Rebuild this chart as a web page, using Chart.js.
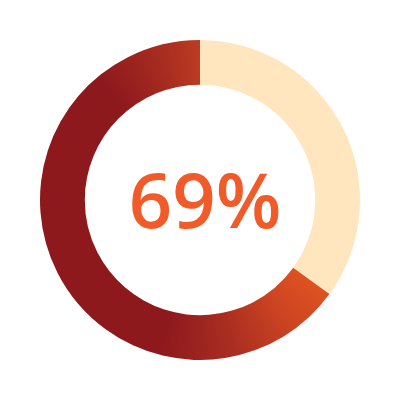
<!DOCTYPE html>
<html>
<head>
<meta charset="utf-8">
<script src="https://cdn.jsdelivr.net/npm/chart.js@4"></script>
<style>
  html, body { margin: 0; padding: 0; background: #fff; }
  #wrap { width: 400px; height: 400px; }
</style>
</head>
<body>
<div id="wrap"><canvas id="chart"></canvas></div>
<script>
// Data (arc starts at 12 o'clock, runs clockwise)
const labels = ['Remaining', 'Complete'];
const values = [35, 65];
const centerText = ['69%'];

// Colours
const PEACH = '#FFE6BE';
const TEXT_COLOR = '#F15A29';

// conic gradient for the filled part, dark red in the middle, orange at the end
function ringGradient(chart) {
  const area = chart.chartArea;
  if (!area) return '#8E191D';
  const cx = (area.left + area.right) / 2;
  const cy = (area.top + area.bottom) / 2;
  const g = chart.ctx.createConicGradient(-Math.PI / 2, cx, cy);
  g.addColorStop(0.00, '#BC3C22');
  g.addColorStop(0.35, '#DE5221');
  g.addColorStop(0.40, '#CC4422');
  g.addColorStop(0.465, '#AA2E20');
  g.addColorStop(0.54, '#8E191D');
  g.addColorStop(0.89, '#8E191D');
  g.addColorStop(0.955, '#A62B20');
  g.addColorStop(1.00, '#BC3C22');
  return g;
}

// Plugin to write the percentage in the middle
const centerLabel = {
  id: 'centerLabel',
  afterDraw(chart) {
    const { ctx, chartArea } = chart;
    const cx = (chartArea.left + chartArea.right) / 2;
    const cy = (chartArea.top + chartArea.bottom) / 2;
    ctx.save();
    ctx.fillStyle = TEXT_COLOR;
    ctx.font = '600 76px "Open Sans"';
    ctx.textAlign = 'center';
    ctx.textBaseline = 'middle';
    ctx.fillText(centerText[0], cx + 5, cy + 6);
    ctx.restore();
  }
};

new Chart(document.getElementById('chart').getContext('2d'), {
  type: 'doughnut',
  data: {
    labels: labels,
    datasets: [{
      data: values,
      backgroundColor: (context) => context.dataIndex === 0 ? PEACH : ringGradient(context.chart),
      borderWidth: 0
    }]
  },
  options: {
    responsive: true,
    maintainAspectRatio: false,
    animation: false,
    cutout: '72%',
    layout: { padding: 40 },
    plugins: {
      legend: { display: false },
      tooltip: { enabled: false }
    }
  },
  plugins: [centerLabel]
});
</script>
</body>
</html>
